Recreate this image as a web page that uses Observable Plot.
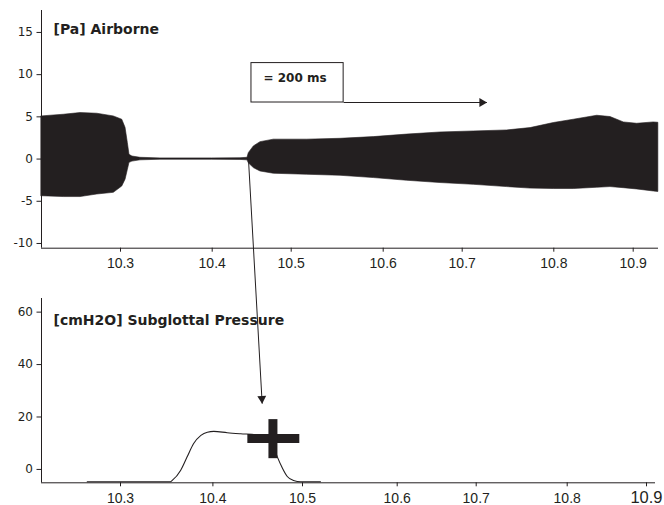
<!DOCTYPE html>
<html><head><meta charset="utf-8">
<script src="https://cdn.jsdelivr.net/npm/d3@7"></script>
<script src="https://cdn.jsdelivr.net/npm/@observablehq/plot@0.6"></script>
<style>
body{margin:0;background:#fff;}
#chart{position:relative;width:664px;height:505px;overflow:hidden;}
#chart svg{position:absolute;left:0;top:0;}
</style></head><body><div id="chart"></div>
<script>
// ---------- data ----------
// Airborne signal envelope: time (s), upper and lower envelope (Pa)
const airTime  = [10.2139,10.2382,10.2564,10.2746,10.2927,10.3019,10.3055,10.308,10.3098,10.313,10.3218,10.3436,10.4,10.4358,10.4447,10.4463,10.4527,10.4611,10.478,10.5174,10.5536,10.5898,10.6304,10.6725,10.7127,10.7491,10.7746,10.8,10.8252,10.8547,10.8714,10.8882,10.905,10.9259,10.9318];
const airUpper = [5.05,5.25,5.45,5.37,5.05,4.66,3.7,1.9,0.5,0.3,0.15,0.08,0.08,0.1,0.15,0.7,1.5,2.0,2.3,2.3,2.4,2.6,2.9,3.15,3.27,3.39,3.67,4.27,4.66,5.13,4.98,4.34,4.18,4.34,4.3];
const airLower = [-4.4,-4.5,-4.5,-4.2,-4.0,-3.25,-2.45,-1.3,-0.45,-0.3,-0.15,-0.08,-0.08,-0.1,-0.15,-0.5,-1.07,-1.47,-1.74,-1.86,-1.98,-2.25,-2.57,-2.84,-3.05,-3.32,-3.5,-3.55,-3.55,-3.4,-3.32,-3.45,-3.6,-3.84,-3.9];
// Subglottal pressure: time (s), cmH2O
const pTime  = [10.264,10.354,10.356,10.365,10.372,10.379,10.387,10.394,10.401,10.416,10.431,10.448,10.462,10.466,10.472,10.477,10.483,10.490,10.498,10.519];
const pValue = [-4.7,-4.7,-4.2,-0.4,4.7,9.8,13.0,14.2,14.5,14.0,13.6,13.2,12.2,9.9,4.7,0.9,-2.7,-4.2,-4.7,-4.7];
// ticks and labels
const xTicks = [10.3,10.4,10.5,10.6,10.7,10.8,10.9];
const yTicksTop = [-10,-5,0,5,10,15];
const yTicksBottom = [0,20,40,60];
const topTitle = "[Pa] Airborne";
const bottomTitle = "[cmH2O] Subglottal Pressure";
const scaleLabel = "= 200 ms";
// annotations
const boxTime = [10.4497, 10.557];
const boxPa = [6.7, 11.37];
const arrowTime = [10.557, 10.727];
const onsetArrowTime = [10.4397, 10.455];
const onsetArrowP = [118.3, 25.1];
const markTime = [10.439, 10.467, 10.497];
const markP = [4.1, 11.8, 19.0];

// ---------- layout ----------
const ink = "#231f20";
const W = 664, H = 505;
// the original figure's time axes are slightly uneven: map time through its tick positions
const topTimeKnots = [10.2139, ...xTicks, 10.932];
const topPxKnots = [41,120,211.7,290.7,382.7,461.7,553.3,632.7,658];
const botTimeKnots = [10.2145, ...xTicks, 10.9113];
const botPxKnots = [41,120,212.4,302,396.7,475.7,566.7,646,655];
const warpTop = d3.scaleLinear(topTimeKnots, topPxKnots);
const warpBot = d3.scaleLinear(botTimeKnots, botPxKnots);
const tTop = [topTimeKnots[0], topTimeKnots[topTimeKnots.length - 1]];
const tBot = [botTimeKnots[0], botTimeKnots[botTimeKnots.length - 1]];
const topY = {domain: [-10.56, 17.6], range: [247.7, 10]};
const botY = {domain: [-5.1, 65.2], range: [482.3, 298]};
const fmtY = d => String(d);
const fmtX = d => d.toFixed(1);
const xFont = "Liberation Sans, Arial, sans-serif";

const air = airTime.map((t, i) => ({t, hi: airUpper[i], lo: airLower[i]}));
const pres = pTime.map((t, i) => ({t, v: pValue[i]}));

const xLabels = (ticks, opts) => Plot.text(ticks, {x: d => d, text: fmtX, frameAnchor: "bottom", lineAnchor: "top", textAnchor: "middle", fontFamily: xFont, fill: ink, ...opts});

const topPlot = Plot.plot({
  width: W, height: H,
  marginLeft: 41, marginRight: W - 658, marginTop: 10, marginBottom: H - 247.7,
  x: {type: "linear", transform: warpTop, domain: [41, 658], range: [41, 658], axis: null, label: null},
  y: {...topY, axis: null, label: null},
  style: {background: "white", color: ink, fontFamily: "DejaVu Sans"},
  marks: [
    Plot.areaY(air, {x: "t", y1: "lo", y2: "hi", fill: ink, stroke: ink, strokeWidth: 0.6}),
    Plot.ruleX([tTop[0]], {y1: topY.domain[0], y2: topY.domain[1], stroke: ink, strokeWidth: 1}),
    Plot.ruleY([topY.domain[0]], {x1: tTop[0], x2: tTop[1], stroke: ink, strokeWidth: 1}),
    Plot.axisY(yTicksTop, {anchor: "left", tickSize: 4.5, tickPadding: 4, tickFormat: fmtY, fontSize: 12, fontFamily: "DejaVu Sans", color: ink, label: null}),
    Plot.axisX(xTicks, {anchor: "bottom", tickSize: 4, text: null, color: ink, label: null}),
    xLabels(xTicks, {dy: 10, fontSize: 14}),
    Plot.text([topTitle], {frameAnchor: "top-left", dx: 12, dy: 13.5, textAnchor: "start", lineAnchor: "top", fontSize: 14, fontWeight: "bold", fontFamily: "DejaVu Sans", fill: ink}),
    Plot.rect([{t1: boxTime[0], t2: boxTime[1], p1: boxPa[0], p2: boxPa[1]}], {x1: "t1", x2: "t2", y1: "p1", y2: "p2", fill: "white", stroke: ink, strokeWidth: 1}),
    Plot.text([{t: boxTime[0], p: boxPa[1], s: scaleLabel}], {x: "t", y: "p", text: "s", dx: 12, dy: 10.7, textAnchor: "start", lineAnchor: "top", fontSize: 12, fontWeight: "bold", fontFamily: "DejaVu Sans", fill: ink}),
    Plot.link([{t1: arrowTime[0], t2: arrowTime[1], p: boxPa[0]}], {x1: "t1", x2: "t2", y1: "p", y2: "p", stroke: ink, strokeWidth: 1}),
    Plot.dot([{t: arrowTime[1], p: boxPa[0]}], {x: "t", y: "p", symbol: "triangle", r: 3.3, rotate: 90, dx: -5, fill: ink, stroke: "none"})
  ]
});

const botPlot = Plot.plot({
  width: W, height: H,
  marginLeft: 41, marginRight: W - 655, marginTop: 298, marginBottom: H - 482.3,
  x: {type: "linear", transform: warpBot, domain: [41, 655], range: [41, 655], axis: null, label: null},
  y: {...botY, axis: null, label: null},
  style: {background: "transparent", color: ink, fontFamily: "DejaVu Sans"},
  marks: [
    Plot.ruleX([tBot[0]], {y1: botY.domain[0], y2: botY.domain[1], stroke: ink, strokeWidth: 1}),
    Plot.ruleY([botY.domain[0]], {x1: tBot[0], x2: tBot[1], stroke: ink, strokeWidth: 1}),
    Plot.axisY(yTicksBottom, {anchor: "left", tickSize: 4.5, tickPadding: 4, tickFormat: fmtY, fontSize: 12, fontFamily: "DejaVu Sans", color: ink, label: null}),
    Plot.axisX(xTicks, {anchor: "bottom", tickSize: 4, text: null, color: ink, label: null}),
    xLabels(xTicks.slice(0, -1), {dy: 10.5, fontSize: 14}),
    xLabels(xTicks.slice(-1), {dy: 8, fontSize: 16.5}),
    Plot.line(pres, {x: "t", y: "v", curve: "monotone-x", stroke: ink, strokeWidth: 1.1}),
    Plot.ruleY([{p: markP[1], t1: markTime[0], t2: markTime[2]}], {y: "p", x1: "t1", x2: "t2", stroke: ink, strokeWidth: 9}),
    Plot.ruleX([{t: markTime[1], p1: markP[0], p2: markP[2]}], {x: "t", y1: "p1", y2: "p2", stroke: ink, strokeWidth: 9}),
    Plot.text([bottomTitle], {frameAnchor: "top-left", dx: 12, dy: 17, textAnchor: "start", lineAnchor: "top", fontSize: 14, fontWeight: "bold", fontFamily: "DejaVu Sans", fill: ink}),
    Plot.link([{t1: onsetArrowTime[0], t2: onsetArrowTime[1], p1: onsetArrowP[0], p2: onsetArrowP[1]}], {x1: "t1", x2: "t2", y1: "p1", y2: "p2", stroke: ink, strokeWidth: 1}),
    Plot.dot([{t: onsetArrowTime[1], p: onsetArrowP[1]}], {x: "t", y: "p", symbol: "triangle", r: 3.3, rotate: 176.8, dy: -5, dx: -0.3, fill: ink, stroke: "none"})
  ]
});

const chart = document.getElementById("chart");
chart.appendChild(topPlot);
chart.appendChild(botPlot);
</script>
</body></html>
